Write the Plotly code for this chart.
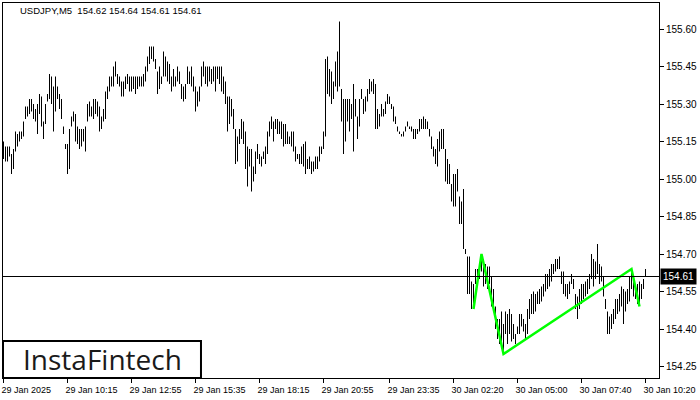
import plotly.graph_objects as go

symbol_title = "USDJPY,M5"
last_ohlc = [154.62, 154.64, 154.61, 154.61]

highs = [
    155.15, 155.13, 155.13, 155.13, 155.10, 155.12, 155.19, 155.18, 155.19, 155.19,
    155.23, 155.29, 155.29, 155.32, 155.32, 155.30, 155.28, 155.30, 155.34, 155.33,
    155.23, 155.30, 155.34, 155.42, 155.41, 155.37, 155.41, 155.37, 155.34, 155.32,
    155.21, 155.14, 155.14, 155.20, 155.25, 155.27, 155.26, 155.21, 155.20, 155.20,
    155.20, 155.21, 155.30, 155.31, 155.29, 155.32, 155.32, 155.31, 155.29, 155.25,
    155.28, 155.35, 155.37, 155.41, 155.41, 155.45, 155.47, 155.42, 155.41, 155.39,
    155.39, 155.41, 155.42, 155.41, 155.41, 155.41, 155.41, 155.41, 155.41, 155.41,
    155.42, 155.45, 155.49, 155.53, 155.53, 155.53, 155.48, 155.43, 155.45, 155.41,
    155.51, 155.49, 155.47, 155.46, 155.41, 155.44, 155.41, 155.45, 155.43, 155.38,
    155.37, 155.38, 155.45, 155.43, 155.45, 155.41, 155.37, 155.35, 155.37, 155.45,
    155.47, 155.45, 155.45, 155.45, 155.44, 155.45, 155.45, 155.45, 155.45, 155.45,
    155.41, 155.39, 155.33, 155.33, 155.32, 155.28, 155.20, 155.17, 155.20, 155.24,
    155.23, 155.19, 155.13, 155.12, 155.12, 155.05, 155.11, 155.14, 155.10, 155.09,
    155.11, 155.13, 155.19, 155.23, 155.25, 155.23, 155.24, 155.24, 155.23, 155.23,
    155.22, 155.22, 155.19, 155.17, 155.19, 155.19, 155.13, 155.10, 155.10, 155.13,
    155.14, 155.15, 155.08, 155.09, 155.07, 155.07, 155.09, 155.09, 155.13, 155.13,
    155.19, 155.48, 155.49, 155.44, 155.43, 155.39, 155.47, 155.51, 155.63, 155.36,
    155.32, 155.32, 155.32, 155.32, 155.30, 155.38, 155.32, 155.25, 155.32, 155.36,
    155.32, 155.33, 155.36, 155.40, 155.39, 155.40, 155.38, 155.28, 155.26, 155.30,
    155.28, 155.31, 155.34, 155.33, 155.30, 155.29, 155.25, 155.21, 155.19, 155.18,
    155.19, 155.21, 155.23, 155.21, 155.21, 155.20, 155.20, 155.20, 155.24, 155.24,
    155.25, 155.24, 155.23, 155.20, 155.17, 155.13, 155.12, 155.16, 155.19, 155.20,
    155.20, 155.12, 155.08, 155.06, 154.98, 155.02, 155.02, 155.04, 154.93, 154.91,
    154.96, 154.72, 154.69, 154.69, 154.59, 154.58, 154.64, 154.64, 154.66, 154.70,
    154.68, 154.66, 154.65, 154.65, 154.61, 154.56, 154.49, 154.44, 154.44, 154.47,
    154.42, 154.47, 154.46, 154.48, 154.46, 154.42, 154.38, 154.41, 154.46, 154.46,
    154.44, 154.42, 154.48, 154.52, 154.54, 154.55, 154.54, 154.55, 154.56, 154.57,
    154.58, 154.62, 154.62, 154.64, 154.66, 154.66, 154.68, 154.68, 154.69, 154.63,
    154.63, 154.58, 154.58, 154.59, 154.62, 154.60, 154.54, 154.53, 154.56, 154.58,
    154.58, 154.59, 154.60, 154.62, 154.70, 154.68, 154.67, 154.74, 154.66, 154.65,
    154.61, 154.52, 154.47, 154.45, 154.46, 154.48, 154.52, 154.52, 154.54, 154.57,
    154.56, 154.55, 154.56, 154.61, 154.64, 154.61, 154.58, 154.58, 154.59, 154.58,
    154.60, 154.64,
]

lows = [
    155.08, 155.07, 155.07, 155.09, 155.02, 155.04, 155.11, 155.13, 155.15, 155.16,
    155.17, 155.24, 155.25, 155.26, 155.27, 155.24, 155.23, 155.18, 155.26, 155.21,
    155.16, 155.22, 155.31, 155.32, 155.30, 155.19, 155.27, 155.32, 155.28, 155.24,
    155.18, 155.12, 155.02, 155.04, 155.21, 155.23, 155.15, 155.14, 155.12, 155.13,
    155.15, 155.11, 155.23, 155.25, 155.25, 155.24, 155.26, 155.25, 155.19, 155.20,
    155.23, 155.24, 155.32, 155.35, 155.37, 155.37, 155.41, 155.38, 155.37, 155.33,
    155.33, 155.36, 155.38, 155.35, 155.35, 155.36, 155.34, 155.36, 155.37, 155.37,
    155.37, 155.39, 155.43, 155.46, 155.48, 155.47, 155.44, 155.34, 155.36, 155.38,
    155.41, 155.41, 155.39, 155.38, 155.35, 155.37, 155.37, 155.39, 155.38, 155.32,
    155.31, 155.32, 155.38, 155.38, 155.37, 155.35, 155.27, 155.29, 155.31, 155.37,
    155.41, 155.38, 155.37, 155.39, 155.38, 155.39, 155.35, 155.40, 155.38, 155.35,
    155.34, 155.30, 155.19, 155.22, 155.25, 155.20, 155.06, 155.07, 155.14, 155.16,
    155.14, 155.04, 154.97, 155.05, 154.95, 154.99, 155.02, 155.08, 155.06, 155.05,
    155.08, 155.06, 155.10, 155.17, 155.20, 155.15, 155.20, 155.18, 155.18, 155.16,
    155.13, 155.14, 155.14, 155.14, 155.13, 155.11, 155.07, 155.08, 155.06, 155.06,
    155.05, 155.02, 155.04, 155.04, 155.02, 155.03, 155.04, 155.04, 155.07, 155.10,
    155.12, 155.17, 155.34, 155.33, 155.30, 155.32, 155.37, 155.35, 155.37, 155.23,
    155.10, 155.15, 155.23, 155.19, 155.24, 155.11, 155.25, 155.16, 155.21, 155.32,
    155.26, 155.27, 155.31, 155.34, 155.35, 155.34, 155.20, 155.20, 155.21, 155.25,
    155.25, 155.26, 155.30, 155.30, 155.28, 155.23, 155.22, 155.19, 155.18, 155.17,
    155.17, 155.19, 155.21, 155.20, 155.19, 155.16, 155.16, 155.18, 155.19, 155.20,
    155.20, 155.20, 155.20, 155.17, 155.12, 155.09, 155.06, 155.05, 155.11, 155.12,
    155.12, 154.99, 154.98, 154.98, 154.91, 154.89, 154.89, 154.95, 154.82, 154.82,
    154.72, 154.70, 154.54, 154.54, 154.48, 154.48, 154.58, 154.57, 154.60, 154.63,
    154.57, 154.58, 154.56, 154.58, 154.49, 154.47, 154.40, 154.36, 154.34, 154.32,
    154.30, 154.38, 154.34, 154.38, 154.35, 154.36, 154.34, 154.38, 154.38, 154.41,
    154.39, 154.36, 154.38, 154.44, 154.46, 154.46, 154.47, 154.50, 154.50, 154.51,
    154.53, 154.55, 154.56, 154.57, 154.59, 154.62, 154.63, 154.64, 154.64, 154.58,
    154.54, 154.53, 154.52, 154.54, 154.58, 154.56, 154.48, 154.44, 154.48, 154.50,
    154.52, 154.53, 154.54, 154.56, 154.60, 154.57, 154.60, 154.62, 154.58, 154.59,
    154.53, 154.48, 154.38, 154.38, 154.40, 154.42, 154.44, 154.46, 154.47, 154.49,
    154.42, 154.47, 154.50, 154.51, 154.56, 154.53, 154.52, 154.50, 154.50, 154.52,
    154.56, 154.61,
]

time_tick_bars = [0, 32, 64, 96, 128, 160, 193, 225, 257, 289, 321]
time_tick_labels = ["29 Jan 2025", "29 Jan 10:15", "29 Jan 12:55", "29 Jan 15:35",
                    "29 Jan 18:15", "29 Jan 20:55", "29 Jan 23:35", "30 Jan 02:20",
                    "30 Jan 05:00", "30 Jan 07:40", "30 Jan 10:20"]
price_ticks = [154.25, 154.40, 154.55, 154.70, 154.85, 155.00, 155.15, 155.30, 155.45, 155.60]

pattern_bars = [235, 239, 250, 314, 318]
pattern_prices = [154.48, 154.70, 154.30, 154.64, 154.49]

# build high-low bar segments
xs, ys = [], []
for i, (h, l) in enumerate(zip(highs, lows)):
    xs += [i, i, None]
    ys += [l, h, None]

fig = go.Figure()
fig.add_trace(go.Scatter(x=xs, y=ys, mode="lines",
                         line=dict(color="black", width=1), hoverinfo="skip",
                         showlegend=False))
fig.add_trace(go.Scatter(x=pattern_bars, y=pattern_prices, mode="lines",
                         line=dict(color="#00ff00", width=2.5), hoverinfo="skip",
                         showlegend=False))

last_close = last_ohlc[3]
FONT = "'Liberation Sans', Arial, sans-serif"

fig.add_shape(type="line", xref="paper", x0=0, x1=1, yref="y", y0=last_close, y1=last_close,
              line=dict(color="black", width=1))
fig.add_shape(type="rect", xref="paper", yref="paper", x0=0, x1=0.3018, y0=0, y1=0.0987,
              fillcolor="white", line=dict(color="black", width=2), layer="above")

fig.add_annotation(xref="paper", yref="paper", x=0.151, y=0.05, text="InstaFintech",
                   showarrow=False, font=dict(family="'Open Sans', sans-serif", size=28, color="#1a1a1a"),
                   xanchor="center", yanchor="middle")
fig.add_annotation(xref="paper", yref="paper", x=0.0229, y=0.9787,
                   text=symbol_title + "  " + " ".join(f"{v:.2f}" for v in last_ohlc),
                   showarrow=False, font=dict(family=FONT, size=9.5, color="black"),
                   xanchor="left", yanchor="middle")
fig.add_annotation(xref="paper", yref="y", x=1, y=last_close, text=f"{last_close:.2f}",
                   showarrow=False, xanchor="left", yanchor="middle", xshift=1,
                   bgcolor="black", font=dict(family=FONT, size=10, color="white"),
                   borderpad=2)

fig.update_layout(
    width=700, height=400,
    margin=dict(l=3, r=41, t=3, b=22, autoexpand=False),
    paper_bgcolor="white", plot_bgcolor="white",
    font=dict(family=FONT, size=10, color="black"),
    xaxis=dict(range=[-0.25, 327.75], showgrid=False, zeroline=False,
               showline=True, linecolor="black", linewidth=1, mirror=True,
               ticks="outside", ticklen=4, tickcolor="black",
               tickvals=time_tick_bars, ticktext=time_tick_labels,
               ticklabelposition="outside right", tickangle=0, automargin=False,
               ticklabelstandoff=3, ticklabelshift=-3, ticklabeloverflow="allow",
               tickfont=dict(size=9), fixedrange=True),
    yaxis=dict(range=[154.204, 155.704], side="right", showgrid=False, zeroline=False,
               showline=True, linecolor="black", linewidth=1, mirror=True,
               ticks="outside", ticklen=4, tickcolor="black",
               tickvals=price_ticks, ticktext=[f"{v:.2f}" for v in price_ticks],
               automargin=False, fixedrange=True),
)

fig.write_html("out.html", config={"displayModeBar": False},
               post_script="document.body.style.margin='0px';")
